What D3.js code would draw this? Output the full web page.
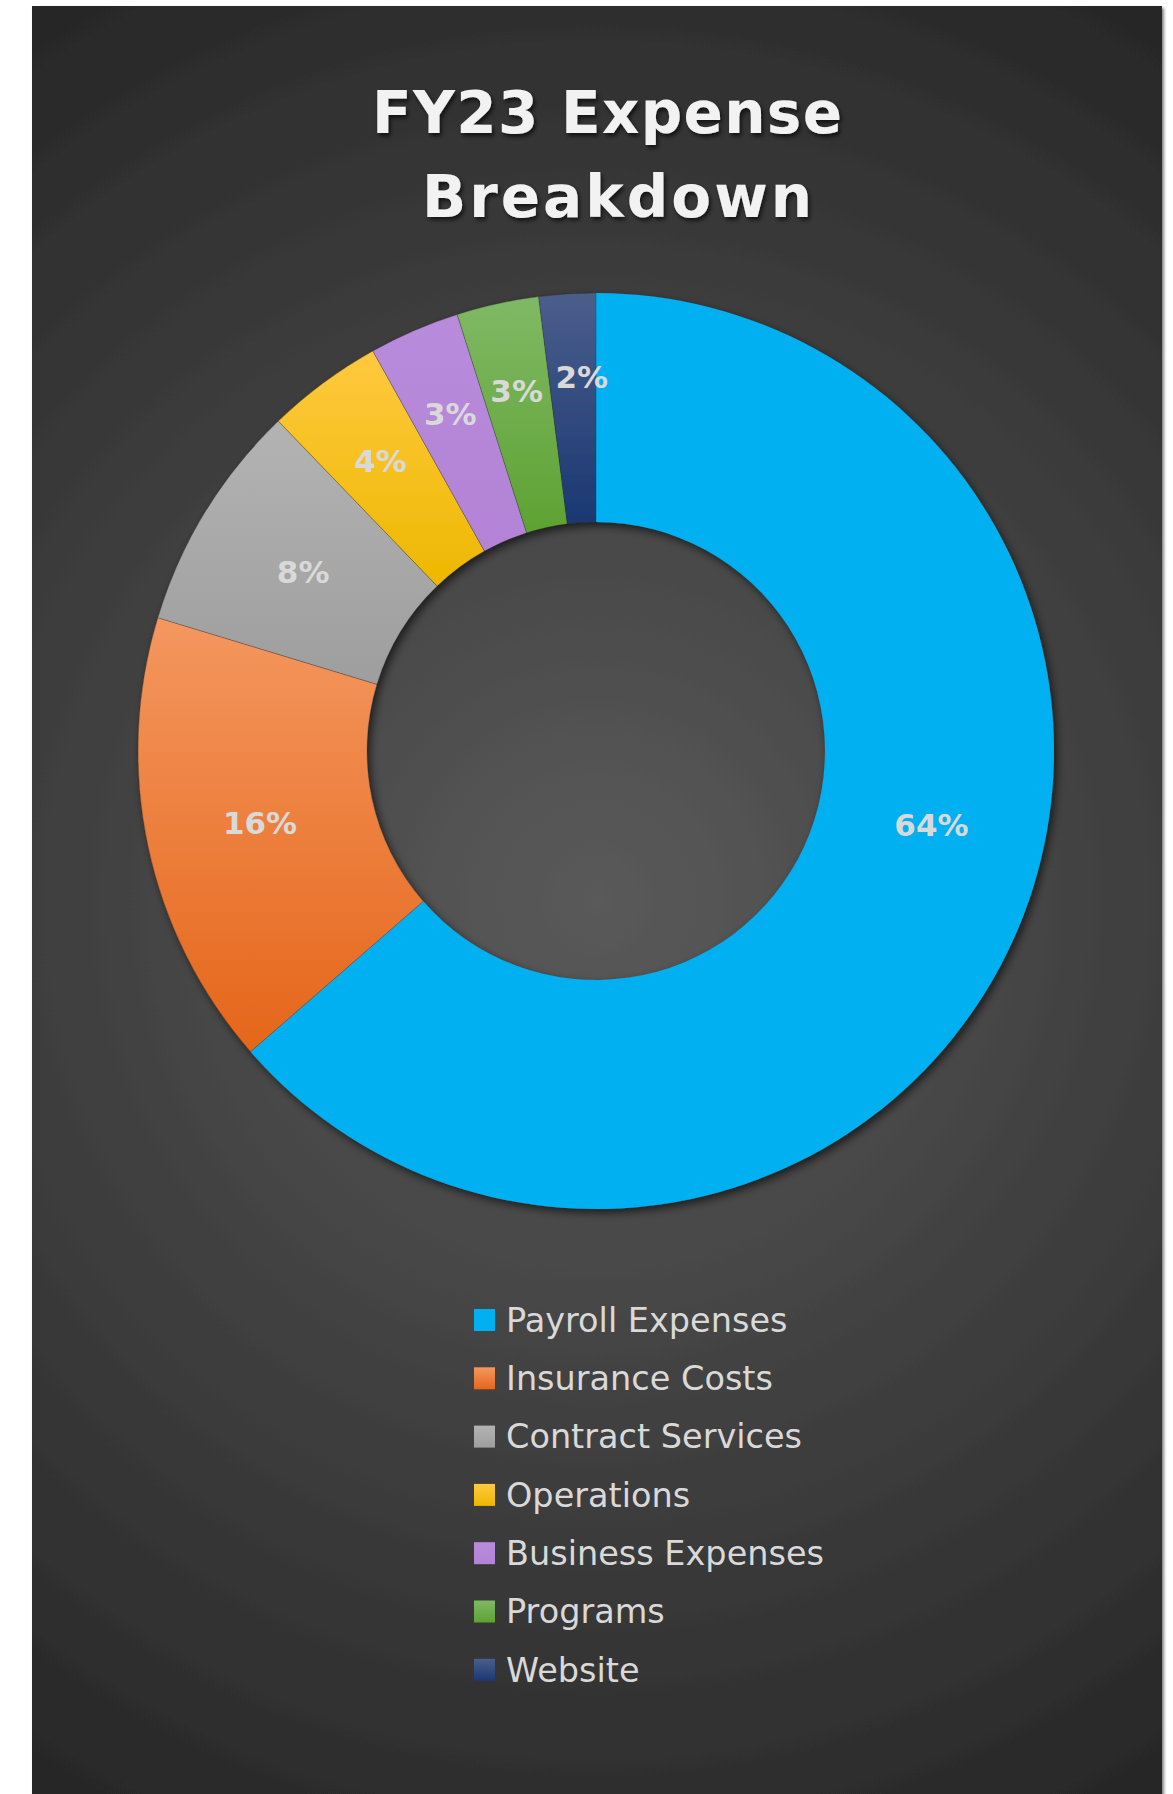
<!DOCTYPE html>
<html>
<head>
<meta charset="utf-8">
<script src="https://cdn.jsdelivr.net/npm/d3@7"></script>
<style>
  html, body { margin: 0; padding: 0; background: #ffffff; }
  svg { display: block; }
</style>
</head>
<body>
<svg id="chart" width="1173" height="1794"></svg>
<script>
// ---- data ----
const titleLines = ["FY23 Expense ", "Breakdown"];
const categories = ["Payroll Expenses", "Insurance Costs", "Contract Services", "Operations", "Business Expenses", "Programs", "Website"];
const values = [63.6, 16.1, 8.1, 4.1, 3.2, 2.9, 2.0];

// ---- palette (top / bottom of each gradient) ----
const colorTop    = ["#00B0F0", "#F4975F", "#B3B3B3", "#FFC93F", "#B98BDB", "#80B965", "#4B5E8C"];
const colorBottom = ["#00B0F0", "#E5661A", "#9E9E9E", "#EDB800", "#B283D6", "#5EA232", "#1A3872"];

const W = 1173, H = 1794;
const svg = d3.select("#chart");
const defs = svg.append("defs");

// background radial gradient
const bg = defs.append("radialGradient").attr("id", "bgGrad")
  .attr("gradientUnits", "userSpaceOnUse")
  .attr("cx", 597).attr("cy", 900).attr("r", 1062);
bg.append("stop").attr("offset", "0%").attr("stop-color", "#5a5a5a");
bg.append("stop").attr("offset", "100%").attr("stop-color", "#262626");

// slice gradients
categories.forEach((c, i) => {
  const g = defs.append("linearGradient").attr("id", "sg" + i)
    .attr("x1", 0).attr("y1", 0).attr("x2", 0).attr("y2", 1);
  g.append("stop").attr("offset", "0%").attr("stop-color", colorTop[i]);
  g.append("stop").attr("offset", "100%").attr("stop-color", colorBottom[i]);
});

// shadows
const sh = defs.append("filter").attr("id", "ringShadow")
  .attr("x", "-10%").attr("y", "-10%").attr("width", "120%").attr("height", "120%");
sh.append("feDropShadow").attr("dx", 3).attr("dy", 4).attr("stdDeviation", 4)
  .attr("flood-color", "#000").attr("flood-opacity", 0.6);
const tsh = defs.append("filter").attr("id", "titleShadow")
  .attr("x", "-10%").attr("y", "-30%").attr("width", "120%").attr("height", "160%");
tsh.append("feDropShadow").attr("dx", 2).attr("dy", 3).attr("stdDeviation", 2)
  .attr("flood-color", "#000").attr("flood-opacity", 0.65);
const psh = defs.append("filter").attr("id", "panelShadow")
  .attr("x", "-5%").attr("y", "-5%").attr("width", "110%").attr("height", "110%");
psh.append("feDropShadow").attr("dx", 2).attr("dy", 2).attr("stdDeviation", 1.5)
  .attr("flood-color", "#000").attr("flood-opacity", 0.5);

// panel
svg.append("rect")
  .attr("x", 32).attr("y", 6).attr("width", 1130).attr("height", H)
  .attr("fill", "url(#bgGrad)").attr("filter", "url(#panelShadow)");

// title
const titleG = svg.append("g").attr("filter", "url(#titleShadow)");
const titleCenters = [607, 617];
const titleWidths = [470, 390];
titleLines.forEach((t, i) => {
  titleG.append("text")
    .attr("x", titleCenters[i]).attr("y", 133 + i * 83.7)
    .attr("text-anchor", "middle")
    .attr("font-family", "'DejaVu Sans', sans-serif")
    .attr("font-weight", "bold")
    .attr("font-size", 58)
    .attr("fill", "#F2F2F2")
    .attr("textLength", titleWidths[i])
    .attr("lengthAdjust", "spacing")
    .text(t.trim());
});

// donut
const cx = 596, cy = 751;
const outerR = 458, innerR = 229;
const pie = d3.pie().sort(null).value(d => d);
const arcs = pie(values);
const arc = d3.arc().innerRadius(innerR).outerRadius(outerR);

const ring = svg.append("g").attr("transform", `translate(${cx},${cy})`);
ring.append("g").attr("filter", "url(#ringShadow)")
  .selectAll("path").data(arcs).join("path")
  .attr("d", arc)
  .attr("fill", (d, i) => `url(#sg${i})`)
  .attr("stroke", (d, i) => i === 0 ? "none" : "rgba(40,40,40,0.35)")
  .attr("stroke-width", 0.8);

// data labels
const pct = d3.format(".0f");
const midR = (innerR + outerR) / 2;
const extraR = d3.scaleLinear().domain([7, 15, 25]).range([31, 18, 0]).clamp(true);
const labelFont = 31;
ring.selectAll("text.lbl").data(arcs).join("text")
  .attr("class", "lbl")
  .each(function (d) {
    let a = (d.startAngle + d.endAngle) / 2;
    if (d.index === 0) a -= 0.21;
    if (d.index === values.length - 1) a += 0.025;
    const spanDeg = (d.endAngle - d.startAngle) * 180 / Math.PI;
    const r = midR + extraR(spanDeg);
    const x = r * Math.sin(a), y = -r * Math.cos(a);
    d3.select(this).attr("x", x).attr("y", y + labelFont * 0.365);
  })
  .attr("text-anchor", "middle")
  .attr("font-family", "'DejaVu Sans', sans-serif")
  .attr("font-weight", "bold")
  .attr("font-size", labelFont)
  .attr("fill", "#D9D9D9")
  .text(d => pct(d.data) + "%");

// legend
const legend = svg.append("g");
const rowH = 58.3;
const items = legend.selectAll("g").data(categories).join("g")
  .attr("transform", (d, i) => `translate(474,${1309 + i * rowH})`);
items.append("rect")
  .attr("width", 21).attr("height", 22)
  .attr("fill", (d, i) => `url(#sg${i})`);
items.append("text")
  .attr("x", 32).attr("y", 22.7)
  .attr("font-family", "'DejaVu Sans', sans-serif")
  .attr("font-size", 33.5)
  .attr("fill", "#D9D9D9")
  .text(d => d);
</script>
</body>
</html>
